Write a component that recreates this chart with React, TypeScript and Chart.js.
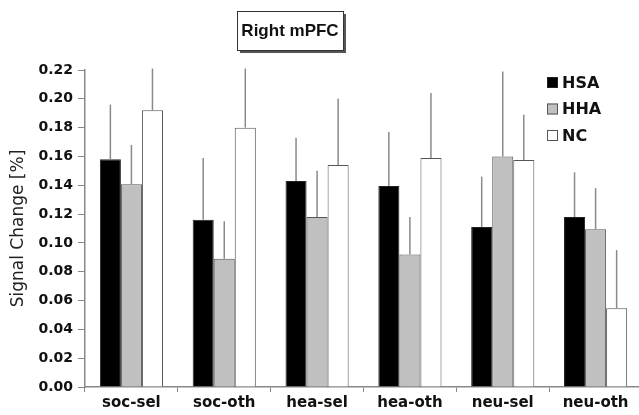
import React, { useEffect, useRef } from "react";
import { Chart, registerables } from "chart.js";

Chart.register(...registerables);

const categories = ["soc-sel", "soc-oth", "hea-sel", "hea-oth", "neu-sel", "neu-oth"];
const seriesNames = ["HSA", "HHA", "NC"];
const hsa = [0.158, 0.116, 0.143, 0.1395, 0.111, 0.118];
const hha = [0.1407, 0.089, 0.118, 0.092, 0.160, 0.1095];
const nc = [0.192, 0.180, 0.154, 0.159, 0.1575, 0.0546];
const hsaErr = [0.038, 0.043, 0.030, 0.0375, 0.035, 0.031];
const hhaErr = [0.0273, 0.026, 0.032, 0.026, 0.059, 0.0285];
const ncErr = [0.029, 0.041, 0.046, 0.045, 0.0315, 0.0404];
const yTicks = [0, 0.02, 0.04, 0.06, 0.08, 0.1, 0.12, 0.14, 0.16, 0.18, 0.2, 0.22];
const titleText = "Right mPFC";
const yTitle = "Signal Change [%]";

const fills = ["#000000", "#c0c0c0", "#ffffff"];
const borders = ["#222222", "#555555", "#555555"];
const errs = [hsaErr, hhaErr, ncErr];
const DEJAVU = "'DejaVu Sans', Verdana, sans-serif";

const extrasPlugin = {
  id: "extras",
  afterDatasetsDraw(chart: any) {
    const ctx = chart.ctx;
    const ys = chart.scales.y;
    ctx.save();
    ctx.strokeStyle = "#8a8a8a";
    ctx.lineWidth = 1.5;
    chart.data.datasets.forEach((ds: any, i: number) => {
      const meta = chart.getDatasetMeta(i);
      meta.data.forEach((bar: any, j: number) => {
        const v = ds.data[j];
        const top = ys.getPixelForValue(v + errs[i][j]);
        ctx.beginPath();
        ctx.moveTo(bar.x, bar.y);
        ctx.lineTo(bar.x, top);
        ctx.stroke();
      });
    });
    ctx.restore();
  },
  afterDraw(chart: any) {
    const ctx = chart.ctx;
    ctx.save();
    // title box with shadow
    const bx = 237, by = 11, bw = 106, bh = 39;
    ctx.fillStyle = "#555";
    ctx.fillRect(bx + 3, by + 3, bw, bh);
    ctx.fillStyle = "#fff";
    ctx.fillRect(bx, by, bw, bh);
    ctx.strokeStyle = "#333";
    ctx.lineWidth = 1;
    ctx.strokeRect(bx + 0.5, by + 0.5, bw, bh);
    ctx.fillStyle = "#111";
    ctx.font = "bold 17px Arial, 'Liberation Sans', sans-serif";
    ctx.textAlign = "center";
    ctx.textBaseline = "middle";
    ctx.fillText(titleText, bx + bw / 2, by + bh / 2 + 1);
    // legend
    ctx.textAlign = "left";
    ctx.font = "bold 16px " + DEJAVU;
    seriesNames.forEach((name, i) => {
      const cy = 82.5 + i * 26.5;
      ctx.fillStyle = fills[i];
      ctx.fillRect(547, cy - 5.5, 11, 11);
      ctx.strokeStyle = borders[i];
      ctx.lineWidth = 1;
      ctx.strokeRect(547.5, cy - 5, 10, 10);
      ctx.fillStyle = "#111";
      ctx.fillText(name, 562, cy + 1);
    });
    ctx.restore();
  },
};

export default function App() {
  const ref = useRef<HTMLCanvasElement>(null);
  useEffect(() => {
    document.body.style.margin = "0";
    const c = new Chart(ref.current!, {
      type: "bar",
      data: {
        labels: categories,
        datasets: [hsa, hha, nc].map((d, i) => ({
          label: seriesNames[i],
          data: d,
          backgroundColor: fills[i],
          borderColor: borders[i],
          borderWidth: 1,
          barPercentage: 1,
          categoryPercentage: 0.68,
        })),
      },
      options: {
        animation: false,
        responsive: false,
        layout: { padding: { top: 70, right: 18, left: 0, bottom: 0 } },
        plugins: { legend: { display: false }, tooltip: { enabled: false }, title: { display: false } },
        scales: {
          x: {
            grid: { display: true, drawOnChartArea: false, offset: true, tickLength: 5, color: "#888" },
            border: { color: "#888", width: 1.5 },
            ticks: {
              color: "#111",
              font: { family: DEJAVU, size: 15, weight: "bold" },
              padding: 2,
            },
            afterFit: (s: any) => { s.height = 28; },
          },
          y: {
            min: 0,
            max: 0.22,
            afterBuildTicks: (s: any) => { s.ticks = yTicks.map((v) => ({ value: v })); },
            grid: { display: true, drawOnChartArea: false, tickLength: 7, color: "#888" },
            border: { color: "#888", width: 1.5 },
            ticks: {
              color: "#111",
              font: { family: DEJAVU, size: 14, weight: "bold" },
              padding: 5,
              callback: (v: any) => Number(v).toFixed(2),
            },
            title: {
              display: true,
              text: yTitle,
              color: "#222",
              font: { family: DEJAVU, size: 17 },
              padding: { top: 8, bottom: 0 },
            },
            afterFit: (s: any) => { s.width = 85; },
          },
        },
      },
      plugins: [extrasPlugin],
    });
    return () => c.destroy();
  }, []);
  return (
    <div style={{ width: 639, height: 415, overflow: "hidden", background: "#fff" }}>
      <canvas ref={ref} width={660} height={415} style={{ display: "block" }} />
    </div>
  );
}
